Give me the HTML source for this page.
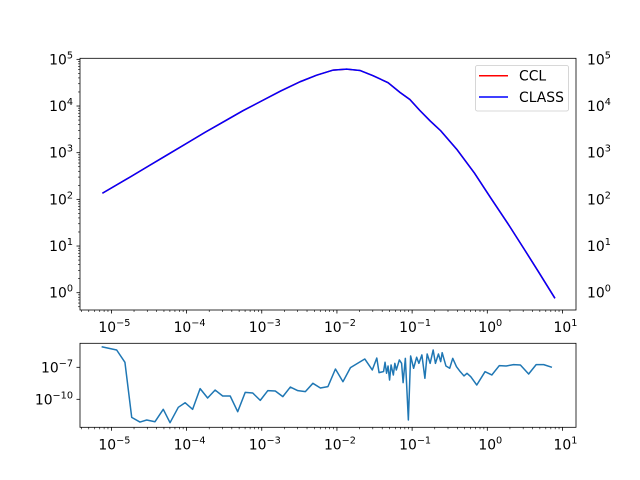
<!DOCTYPE html>
<html><head><meta charset="utf-8"><style>
body{margin:0;background:#fff}
svg{display:block;font-family:"DejaVu Sans","Liberation Sans",sans-serif}
</style></head><body>
<svg id="c" width="640" height="480" viewBox="0 0 640 480"></svg>
<script>
// top panel data: log10(k), log10(P)
const topLogK=[-5.12,-4.75,-4.5,-4.25,-4,-3.75,-3.5,-3.25,-3,-2.75,-2.49,-2.27,-2.05,-1.87,-1.69,-1.52,-1.32,-1.16,-1.03,-0.9,-0.76,-0.62,-0.4,-0.17,0.05,0.27,0.5,0.68,0.9];
const topLogP=[2.13,2.48,2.72,2.96,3.2,3.44,3.67,3.9,4.11,4.32,4.52,4.66,4.77,4.79,4.76,4.65,4.5,4.29,4.14,3.91,3.68,3.47,3.06,2.56,2.02,1.49,0.91,0.45,-0.12];
// bottom panel: log10(k), log10(rel. diff)
const errLogK=[-5.13,-4.93,-4.82,-4.73,-4.62,-4.53,-4.42,-4.31,-4.22,-4.11,-4.02,-3.92,-3.82,-3.72,-3.62,-3.52,-3.42,-3.32,-3.22,-3.12,-3.02,-2.92,-2.82,-2.72,-2.62,-2.52,-2.42,-2.32,-2.22,-2.12,-2.02,-1.92,-1.82,-1.63,-1.53,-1.47,-1.44,-1.38,-1.36,-1.34,-1.32,-1.3,-1.28,-1.25,-1.23,-1.21,-1.17,-1.14,-1.12,-1.09,-1.05,-1.02,-0.98,-0.94,-0.91,-0.87,-0.83,-0.8,-0.76,-0.72,-0.69,-0.65,-0.62,-0.6,-0.55,-0.5,-0.46,-0.41,-0.36,-0.31,-0.27,-0.22,-0.14,-0.03,0.06,0.16,0.25,0.35,0.44,0.55,0.65,0.75,0.86];
const errLogE=[-5.07,-5.38,-6.53,-11.69,-12.13,-11.94,-12.1,-10.94,-12.19,-10.75,-10.32,-10.94,-9.0,-9.88,-9.13,-9.69,-9.69,-11.16,-9.35,-9.41,-10.1,-9.19,-9.22,-9.75,-8.85,-9.19,-9.28,-8.5,-8.94,-8.81,-7.16,-8.35,-7.03,-6.22,-7.25,-6.13,-7.5,-7.4,-6.53,-7.56,-6.88,-8.19,-6.78,-7.72,-6.63,-7.25,-6.31,-6.63,-8.44,-6.16,-11.94,-5.94,-7.09,-6.06,-6.63,-5.84,-8.03,-5.75,-6.63,-5.38,-6.63,-5.75,-6.47,-5.63,-6.88,-7.09,-6.16,-6.94,-7.41,-7.81,-7.56,-7.88,-8.66,-7.41,-7.72,-6.84,-6.88,-6.75,-6.78,-7.63,-6.75,-6.75,-7.0];
const xTickExp=[-5,-4,-3,-2,-1,0,1];
const topTickExp=[0,1,2,3,4,5];
const botTickExp=[-7,-10];

const NS='http://www.w3.org/2000/svg';
const svg=document.getElementById('c');
function el(t,a,p){const e=document.createElementNS(NS,t);for(const k in a)e.setAttribute(k,a[k]);(p||svg).appendChild(e);return e;}
const L=80,R=576;
const X=lk=>111.4+75.18*(lk+5);
const YT=lp=>292.7-46.67*lp;
const YB=le=>367.3-10.67*(le+7);
const T0=58.3,T1=310,B0=343.3,B1=427.3;

function label(x,y,exp,anchor,name){
  const t=el('text',{x:x,y:y,'font-size':'13.9','text-anchor':anchor,fill:'#000'});
  
  
  t.appendChild(document.createTextNode('10'));
  const s=el('tspan',{dy:'-6','font-size':'9.7'},t);
  s.textContent=exp<0?'\u2212'+(-exp):''+exp;
}

function xAxis(yb,prefix){
  const g=el('g',{});
  
  
  for(let d=-6;d<=1;d++){for(let m=2;m<10;m++){const x=X(d+Math.log10(m));if(x>L&&x<R)el('line',{x1:x,x2:x,y1:yb,y2:yb+2,stroke:'#000','stroke-width':0.6},g);}}
  xTickExp.forEach(e=>{const x=X(e);el('line',{x1:x,x2:x,y1:yb,y2:yb+3.5,stroke:'#000','stroke-width':0.8},g);label(x+3,yb+22,e,'middle',prefix+'-x-tick-label');});
}

const topGroup=el('g',{});


xAxis(T1,'top');
for(let d=-1;d<=5;d++){for(let m=2;m<10;m++){const y=YT(d+Math.log10(m));if(y>T0&&y<T1)el('line',{x1:L,x2:L-2,y1:y,y2:y,stroke:'#000','stroke-width':0.6});}}
topTickExp.forEach(e=>{const y=YT(e);el('line',{x1:L,x2:L-3.5,y1:y,y2:y,stroke:'#000','stroke-width':0.8});label(L-7,y+5,e,'end','top-y-tick-label');label(587,y+5,e,'start','top-right-y-tick-label');});
const ptsT=topLogK.map((k,i)=>X(k).toFixed(2)+','+YT(topLogP[i]).toFixed(2)).join(' ');
const ccl=el('polyline',{points:ptsT,fill:'none',stroke:'red','stroke-width':1.5});


const cls=el('polyline',{points:ptsT,fill:'none',stroke:'blue','stroke-width':1.5,'stroke-linejoin':'round'});


el('rect',{x:L,y:T0,width:R-L,height:T1-T0,fill:'none',stroke:'#000','stroke-width':0.8});

const lg=el('g',{});


el('rect',{x:475.5,y:65.5,width:93,height:45.5,rx:2,fill:'#fff','fill-opacity':0.8,stroke:'#ccc','stroke-width':0.8},lg);
el('line',{x1:479,x2:508,y1:75.7,y2:75.7,stroke:'red','stroke-width':1.5},lg);
el('line',{x1:479,x2:508,y1:97,y2:97,stroke:'blue','stroke-width':1.5},lg);
const t1=el('text',{x:519,y:80.5,'font-size':'13.9'},lg);t1.textContent='CCL';

const t2=el('text',{x:519,y:102,'font-size':'13.9'},lg);t2.textContent='CLASS';


xAxis(B1,'bottom');
botTickExp.forEach(e=>{const y=YB(e);el('line',{x1:L,x2:L-3.5,y1:y,y2:y,stroke:'#000','stroke-width':0.8});label(L-7,y+5,e,'end','bottom-y-tick-label');});
const ptsB=errLogK.map((k,i)=>X(k).toFixed(2)+','+YB(errLogE[i]).toFixed(2)).join(' ');
const er=el('polyline',{points:ptsB,fill:'none',stroke:'#1f77b4','stroke-width':1.5,'stroke-linejoin':'round'});


el('rect',{x:L,y:B0,width:R-L,height:B1-B0,fill:'none',stroke:'#000','stroke-width':0.8});
</script>
</body></html>
